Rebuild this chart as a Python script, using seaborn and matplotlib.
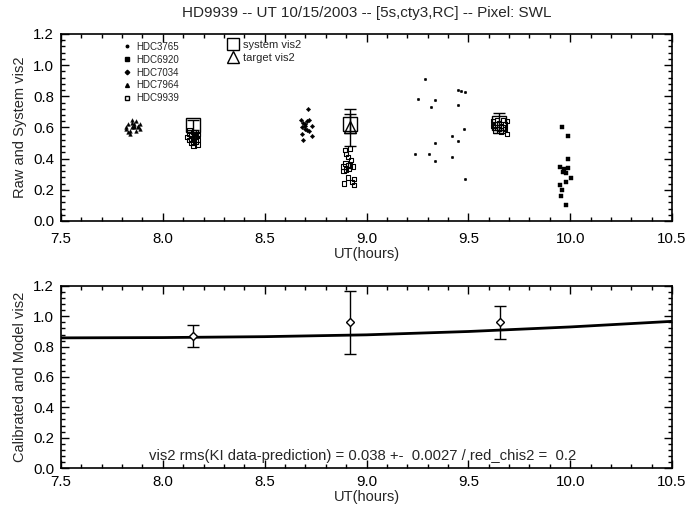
import numpy as np
import pandas as pd
import matplotlib
matplotlib.use("Agg")
import matplotlib.pyplot as plt
from matplotlib.ticker import MultipleLocator, FormatStrFormatter
from matplotlib.lines import Line2D
import seaborn as sns

# ---------------- data ----------------
# raw calibrator / target points (top panel)
hdc7964_x = [7.82, 7.83, 7.84, 7.85, 7.86, 7.87, 7.88, 7.89, 7.83, 7.85, 7.86, 7.88, 7.84, 7.87, 7.82, 7.89, 7.85, 7.86]
hdc7964_y = [0.60, 0.62, 0.58, 0.63, 0.61, 0.64, 0.60, 0.59, 0.57, 0.60, 0.62, 0.61, 0.56, 0.58, 0.59, 0.62, 0.65, 0.60]

hdc7034_x = [8.715, 8.68, 8.72, 8.69, 8.70, 8.73, 8.685, 8.70, 8.71, 8.72, 8.685, 8.73, 8.69, 8.70, 8.71]
hdc7034_y = [0.72, 0.65, 0.65, 0.63, 0.61, 0.61, 0.60, 0.59, 0.585, 0.58, 0.56, 0.545, 0.52, 0.62, 0.64]

hdc3765_x = [9.285, 9.451, 9.466, 9.482, 9.254, 9.335, 9.317, 9.449, 9.479, 9.42, 9.447, 9.334, 9.24, 9.305, 9.418, 9.335, 9.483]
hdc3765_y = [0.914, 0.843, 0.837, 0.828, 0.785, 0.778, 0.733, 0.746, 0.59, 0.548, 0.514, 0.50, 0.43, 0.428, 0.413, 0.387, 0.27]

hdc6920_x = [9.962, 9.987, 9.99, 9.95, 9.97, 9.99, 9.966, 9.98, 10.005, 9.98, 9.95, 9.96, 9.954, 9.98]
hdc6920_y = [0.602, 0.546, 0.398, 0.346, 0.333, 0.342, 0.312, 0.31, 0.273, 0.25, 0.23, 0.20, 0.16, 0.10]

hdc9939_x = [8.13, 8.15, 8.17, 8.14, 8.16, 8.12, 8.15, 8.17, 8.13, 8.16, 8.14, 8.15, 8.17, 8.13, 8.16, 8.15, 8.14, 8.17,
             8.894, 8.92, 8.90, 8.91, 8.925, 8.897, 8.91, 8.888, 8.92, 8.935, 8.887, 8.90, 8.913, 8.91, 8.89, 8.94, 8.94, 8.93,
             9.62, 9.63, 9.64, 9.65, 9.66, 9.67, 9.68, 9.69, 9.63, 9.65, 9.67, 9.62, 9.64, 9.66, 9.68, 9.69, 9.65, 9.63]
hdc9939_y = [0.58, 0.57, 0.56, 0.55, 0.54, 0.54, 0.53, 0.52, 0.52, 0.51, 0.50, 0.50, 0.49, 0.56, 0.57, 0.48, 0.53, 0.55,
             0.456, 0.465, 0.43, 0.41, 0.39, 0.37, 0.36, 0.35, 0.355, 0.35, 0.32, 0.33, 0.333, 0.28, 0.24, 0.27, 0.23, 0.25,
             0.64, 0.62, 0.60, 0.63, 0.61, 0.65, 0.62, 0.64, 0.58, 0.59, 0.60, 0.61, 0.65, 0.57, 0.59, 0.56, 0.62, 0.60]

# system vis2 and target vis2
sys_x = [8.15, 8.92, 9.65]
sys_y = [0.615, 0.625, 0.63]
sys_err = [0.03, 0.06, 0.065]
tgt_x = [8.92]
tgt_y = [0.60]
tgt_err = [0.12]

# calibrated (bottom panel)
cal_x = [8.15, 8.92, 9.656]
cal_y = [0.87, 0.96, 0.96]
cal_err = [0.07, 0.21, 0.11]

# model curve
model_x = [7.5, 8.0, 8.5, 9.0, 9.5, 10.0, 10.5]
model_y = [0.858, 0.860, 0.866, 0.878, 0.900, 0.930, 0.967]

cal_names = ["HDC3765", "HDC6920", "HDC7034", "HDC7964", "HDC9939"]
title = "HD9939 -- UT 10/15/2003 -- [5s,cty3,RC] -- Pixel: SWL"
rms_text = "vis2 rms(KI data-prediction) = 0.038 +-  0.0027 / red_chis2 =  0.2"

# ---------------- style ----------------
sns.set_style("ticks")
plt.rcParams['font.family'] = ['Liberation Sans', 'DejaVu Sans']
plt.rcParams['axes.linewidth'] = 1.2

fig = plt.figure(figsize=(6.89, 5.18), dpi=100)
W, H = 689, 518
def box(l, t, r, b):
    return [l / W, 1 - b / H, (r - l) / W, (b - t) / H]

ax1 = fig.add_axes(box(61, 34, 672, 221))
ax2 = fig.add_axes(box(61, 286, 672, 468))

def style_axes(ax, xpad):
    ax.set_xlim(7.5, 10.5)
    ax.set_ylim(0.0, 1.2)
    ax.xaxis.set_major_locator(MultipleLocator(0.5))
    ax.xaxis.set_minor_locator(MultipleLocator(0.1))
    ax.yaxis.set_major_locator(MultipleLocator(0.2))
    ax.yaxis.set_minor_locator(MultipleLocator(0.04))
    ax.tick_params(which='both', direction='in', top=True, right=True, colors='black',
                   labelsize=10.8, width=1.0)
    ax.tick_params(which='major', length=6, pad=5)
    ax.tick_params(axis='x', which='major', pad=xpad)
    ax.tick_params(which='minor', length=3)
    ax.xaxis.set_major_formatter(FormatStrFormatter('%.1f'))
    ax.yaxis.set_major_formatter(FormatStrFormatter('%.1f'))
    for s in ax.spines.values():
        s.set_visible(True)
        s.set_color('black')
    ax.set_xlabel("UT(hours)", fontsize=10.5, labelpad=1)

# ---------------- top panel ----------------
kw = dict(color='black', edgecolor='black', linewidth=0.3, legend=False)
sns.scatterplot(x=hdc3765_x, y=hdc3765_y, marker='o', s=3.5, ax=ax1, **kw)
sns.scatterplot(x=hdc6920_x, y=hdc6920_y, marker='s', s=7, ax=ax1, **kw)
sns.scatterplot(x=hdc7034_x, y=hdc7034_y, marker='D', s=5, ax=ax1, **kw)
sns.scatterplot(x=hdc7964_x, y=hdc7964_y, marker='^', s=7, ax=ax1, **kw)
sns.scatterplot(x=hdc9939_x, y=hdc9939_y, marker='s', s=10, facecolor='none',
                edgecolor='black', linewidth=0.8, legend=False, ax=ax1)

ax1.errorbar(tgt_x, tgt_y, yerr=tgt_err, fmt='^', ms=9, mfc='none', mec='black',
             ecolor='black', elinewidth=1.0, capsize=4, capthick=1.0, mew=1.0)
ax1.errorbar(sys_x, sys_y, yerr=sys_err, fmt='s', ms=10, mfc='none', mec='black',
             ecolor='black', elinewidth=1.0, capsize=4, capthick=1.0, mew=1.0)

style_axes(ax1, 8)
ax1.set_ylabel("Raw and System vis2", fontsize=10.5, labelpad=4)
ax1.set_title(title, fontsize=11, pad=12)

h1 = [Line2D([], [], ls='none', marker='o', ms=1.8, color='black'),
      Line2D([], [], ls='none', marker='s', ms=2.6, color='black'),
      Line2D([], [], ls='none', marker='D', ms=2.3, color='black'),
      Line2D([], [], ls='none', marker='^', ms=2.8, color='black'),
      Line2D([], [], ls='none', marker='s', ms=3, mfc='none', mec='black')]
leg1 = ax1.legend(h1, cal_names, loc='upper left', bbox_to_anchor=(0.093, 0.99),
                  frameon=False, fontsize=7, handlelength=0.6, handletextpad=0.7,
                  labelspacing=0.3, borderpad=0.1)
ax1.add_artist(leg1)
h2 = [Line2D([], [], ls='none', marker='s', ms=8, mfc='none', mec='black', mew=1.0),
      Line2D([], [], ls='none', marker='^', ms=8, mfc='none', mec='black', mew=1.0)]
ax1.legend(h2, ["system vis2", "target vis2"], loc='upper left', bbox_to_anchor=(0.263, 1.005),
           frameon=False, fontsize=8, handlelength=0.8, handletextpad=0.5,
           labelspacing=0.3, borderpad=0.1)

# ---------------- bottom panel ----------------
sns.lineplot(x=model_x, y=model_y, color='black', linewidth=2.0, ax=ax2)
ax2.errorbar(cal_x, cal_y, yerr=cal_err, fmt='D', ms=4.5, mfc='white', mec='black',
             ecolor='black', elinewidth=1.0, capsize=4, capthick=1.0, mew=1.0, zorder=5)
style_axes(ax2, 5)
ax2.set_ylabel("Calibrated and Model vis2", fontsize=10.5, labelpad=4)
ax2.text(7.93, 0.08, rms_text, fontsize=10.7, va='center', ha='left')

fig.savefig("out.png", dpi=100)
